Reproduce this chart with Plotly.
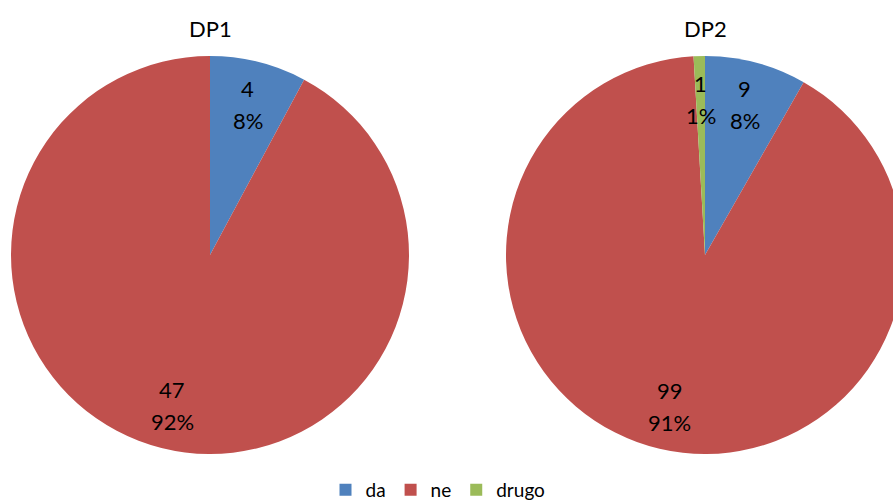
import math
import plotly.graph_objects as go

# Survey answers per group
categories = ["da", "ne", "drugo"]
dp1_values = [4, 47, 0]
dp2_values = [9, 99, 1]
titles = ["DP1", "DP2"]
colors = ["#4F81BD", "#C0504D", "#9BBB59"]

W, H = 910, 504
FONT = "Lato, Open Sans, sans-serif"

# pie geometry in pixels (center x, center y, radius)
pies = [(210, 255, 199), (705, 255, 199)]


def label(px, py, text):
    return dict(x=px / W, y=1 - py / H, xref="paper", yref="paper", text=text,
                showarrow=False, xanchor="center", yanchor="middle",
                font=dict(size=22, color="#000000", family=FONT))


fig = go.Figure()
annotations = []
for i, (vals, title, (cx, cy, r)) in enumerate(zip([dp1_values, dp2_values], titles, pies)):
    labels = [c for c, v in zip(categories, vals) if v > 0]
    values = [v for v in vals if v > 0]
    cols = [col for col, v in zip(colors, vals) if v > 0]
    fig.add_trace(go.Pie(
        labels=labels, values=values, sort=False, direction="clockwise", rotation=0,
        marker=dict(colors=cols, line=dict(width=0)),
        textinfo="none", hoverinfo="label+value+percent",
        domain=dict(x=[(cx - r) / W, (cx + r) / W], y=[1 - (cy + r) / H, 1 - (cy - r) / H]),
        showlegend=(i == 1),
    ))
    # value and percent labels placed along each slice's middle angle
    total = sum(values)
    acc = 0
    for v in values:
        mid = (acc + v / 2) / total * 2 * math.pi
        acc += v
        px = cx + 0.78 * r * math.sin(mid)
        py = cy - 0.78 * r * math.cos(mid)
        pct = round(100 * v / total)
        annotations.append(label(px, py - 16, f"{v}"))
        annotations.append(label(px, py + 16, f"{pct}%"))
    annotations.append(label(cx, 28, title))

fig.update_layout(
    width=W, height=H,
    margin=dict(l=0, r=0, t=0, b=0, autoexpand=False),
    paper_bgcolor="white", plot_bgcolor="white",
    annotations=annotations,
    legend=dict(orientation="h", x=438 / W, xanchor="center", y=1 - 490 / H, yanchor="middle",
                font=dict(size=19, family=FONT, color="#000000"),
                itemwidth=30, traceorder="normal"),
)

fig.write_html("out.html")
